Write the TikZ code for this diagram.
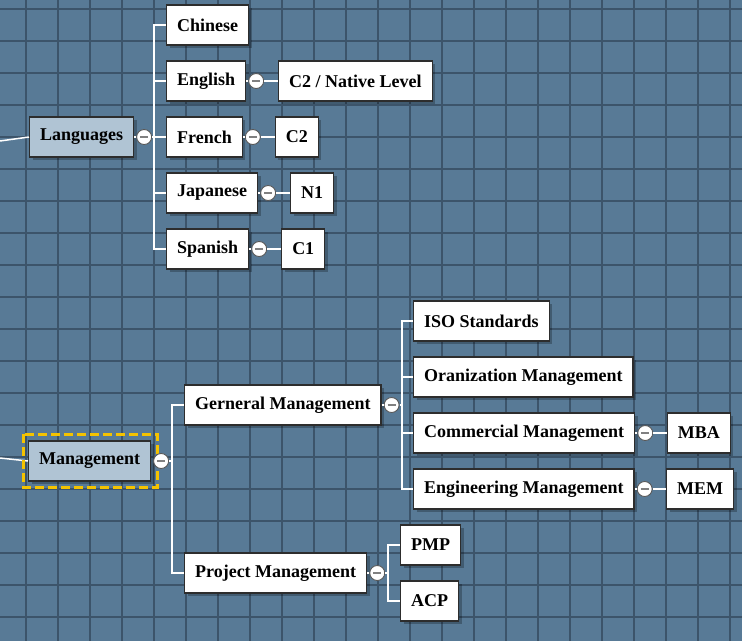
\documentclass[tikz,border=0pt]{standalone}
\usepackage{fontspec}
\setmainfont{Liberation Serif}
\usetikzlibrary{positioning,shadows}

\definecolor{boardblue}{RGB}{88,122,150}
\definecolor{gridblue}{RGB}{60,84,106}
\definecolor{rootfill}{RGB}{176,196,212}
\definecolor{edgegray}{RGB}{45,45,45}
\definecolor{focusyellow}{RGB}{245,195,0}

\tikzset{
    topic/.style={draw=edgegray, fill=white, line width=1.2pt, anchor=west,
        inner xsep=10.5pt, minimum height=40pt,
        drop shadow={shadow xshift=3pt, shadow yshift=-3pt, fill=black, opacity=0.25}},
    roottopic/.style={topic, fill=rootfill},
    toggle/.style={circle, draw=gray!70!black, fill=white, line width=0.9pt,
        minimum size=15pt, inner sep=0pt,
        path picture={\draw[gray, line width=1.3pt]
            ([xshift=-4pt]path picture bounding box.center) --
            ([xshift=4pt]path picture bounding box.center);}},
    link/.style={draw=white, line width=1.5pt},
    focus/.style={draw=focusyellow, line width=3pt, dash pattern=on 9pt off 4pt}
}

\begin{document}
\begin{tikzpicture}[x=1pt, y=-1pt, font=\fontsize{18}{21}\selectfont\bfseries]
    \useasboundingbox (0,0) rectangle (742,641);
    \fill[boardblue] (0,0) rectangle (742,641);
    \foreach \x in {26,58,...,730} {
        \draw[gridblue, line width=1.3pt] (\x,0) -- (\x,641);
    }
    \foreach \y in {9,41,...,617} {
        \draw[gridblue, line width=1.3pt] (0,\y) -- (742,\y);
    }

    % languages
    \node[roottopic] (lang) at (29,137) {Languages};
    \coordinate (langin) at (0,141);
    \coordinate (langbus) at (154,137);
    \draw[link] (langin) -- (lang.west);
    \node[toggle, right=2pt of lang] (langtog) {};
    \draw[link] (lang.east) -- (langtog.west) (langtog.east) -- (langbus);
    \foreach \lang/\row in {Chinese/25, English/81, French/137, Japanese/193, Spanish/249} {
        \node[topic] (\lang) at (166,\row) {\lang};
        \draw[link] (langbus) |- (\lang.west);
    }
    \foreach \lang/\level in {English/{C2 / Native Level}, French/C2, Japanese/N1, Spanish/C1} {
        \node[toggle, right=2pt of \lang] (tog\lang) {};
        \node[topic, right=14pt of tog\lang] (lvl\lang) {\level};
        \draw[link] (\lang.east) -- (tog\lang.west) (tog\lang.east) -- (lvl\lang.west);
    }

    % management
    \node[roottopic] (mgmt) at (28,461) {Management};
    \coordinate (mgmtin) at (0,458);
    \coordinate (mgmtbus) at (172,461);
    \draw[link] (mgmtin) -- (mgmt.west);
    \draw[focus] ([shift={(-5,-6)}]mgmt.north west) rectangle ([shift={(6,6)}]mgmt.south east);
    \node[toggle, right=2pt of mgmt] (mgmttog) {};
    \draw[link] (mgmttog.east) -- (mgmtbus);

    \node[topic] (gm) at (184,405) {Gerneral Management};
    \node[topic] (pm) at (184,573) {Project Management};
    \draw[link] (mgmtbus) |- (gm.west) (mgmtbus) |- (pm.west);

    \node[toggle, right=2pt of gm] (gmtog) {};
    \coordinate (gmbus) at (402,405);
    \draw[link] (gm.east) -- (gmtog.west) (gmtog.east) -- (gmbus);
    \foreach \id/\row/\field in {iso/321/ISO Standards, org/377/Oranization Management,
            com/433/Commercial Management, eng/489/Engineering Management} {
        \node[topic] (\id) at (413,\row) {\field};
        \draw[link] (gmbus) |- (\id.west);
    }
    \foreach \id/\degree in {com/MBA, eng/MEM} {
        \node[toggle, right=2pt of \id] (tog\id) {};
        \node[topic, right=13.5pt of tog\id] (deg\id) {\degree};
        \draw[link] (\id.east) -- (tog\id.west) (tog\id.east) -- (deg\id.west);
    }

    \node[toggle, right=2pt of pm] (pmtog) {};
    \coordinate (pmbus) at (388,573);
    \draw[link] (pm.east) -- (pmtog.west) (pmtog.east) -- (pmbus);
    \foreach \id/\row/\cert in {pmp/545/PMP, acp/601/ACP} {
        \node[topic] (\id) at (400,\row) {\cert};
        \draw[link] (pmbus) |- (\id.west);
    }
\end{tikzpicture}
\end{document}
